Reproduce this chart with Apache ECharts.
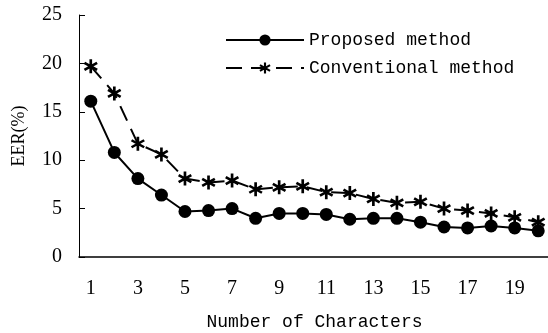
<!DOCTYPE html>
<html>
<head>
<meta charset="utf-8">
<script src="https://cdn.jsdelivr.net/npm/echarts@6/dist/echarts.min.js"></script>
<style>
  html, body { margin: 0; padding: 0; background: #fff; }
  #chart { width: 548px; height: 333px; }
</style>
</head>
<body>
<div id="chart"></div>
<script>
// data
const categories = ['1','2','3','4','5','6','7','8','9','10','11','12','13','14','15','16','17','18','19','20']
const proposed = [16.1, 10.8, 8.1, 6.4, 4.7, 4.8, 5.0, 4.0, 4.5, 4.5, 4.4, 3.9, 4.0, 4.0, 3.6, 3.1, 3.0, 3.2, 3.0, 2.7]
const conventional = [19.7, 16.9, 11.7, 10.6, 8.1, 7.7, 7.9, 7.0, 7.2, 7.3, 6.7, 6.6, 6.0, 5.6, 5.7, 5.0, 4.8, 4.5, 4.1, 3.6]
const yTicks = [0, 5, 10, 15, 20, 25]

// six-spoke asterisk marker (three filled bars)
const starPath = 'path://M9.8,0 L14.2,0 L14.2,24 L9.8,24 Z' +
    ' M0.51,7.91 L2.71,4.10 L23.49,16.10 L21.29,19.91 Z' +
    ' M2.71,19.91 L0.51,16.10 L21.29,4.10 L23.49,7.91 Z'

const monoFont = '"Liberation Mono", "DejaVu Sans Mono", monospace'
const serifFont = '"Liberation Serif", "DejaVu Serif", serif'

const myChart = echarts.init(document.getElementById('chart'))
myChart.setOption({
    animation: false,
    backgroundColor: '#fff',
    grid: {
        left: 79,
        top: 15,
        width: 471,
        bottom: 76,
        containLabel: false,
        outerBoundsMode: 'none'
    },
    legend: {
        orient: 'vertical',
        left: 220,
        top: 26,
        itemWidth: 78,
        itemHeight: 14,
        itemGap: 10,
        textStyle: { color: '#000', fontFamily: monoFont, fontSize: 18 },
        data: ['Proposed method', 'Conventional method']
    },
    xAxis: {
        type: 'category',
        data: categories,
        boundaryGap: true,
        name: 'Number of Characters',
        nameLocation: 'middle',
        nameGap: 56,
        nameTextStyle: { color: '#000', fontFamily: monoFont, fontSize: 18 },
        axisLine: { lineStyle: { color: '#000', width: 1.5 } },
        axisTick: { inside: true, length: 7, interval: 0, lineStyle: { color: '#000' } },
        axisLabel: { interval: 1, margin: 22, color: '#000', fontFamily: serifFont, fontSize: 20 }
    },
    yAxis: {
        type: 'value',
        min: yTicks[0],
        max: yTicks[yTicks.length - 1],
        interval: yTicks[1] - yTicks[0],
        name: 'EER(%)',
        nameLocation: 'middle',
        nameGap: 51,
        nameTextStyle: { color: '#000', fontFamily: serifFont, fontSize: 18 },
        axisLine: { show: true, lineStyle: { color: '#000', width: 1 } },
        axisTick: { show: true, inside: true, length: 6, lineStyle: { color: '#000' } },
        axisLabel: { margin: 17, color: '#000', fontFamily: serifFont, fontSize: 20 },
        splitLine: { show: false }
    },
    series: [{
        name: 'Proposed method',
        type: 'line',
        data: proposed,
        symbol: 'circle',
        symbolSize: 13,
        itemStyle: { color: '#000' },
        lineStyle: { color: '#000', width: 2 }
    }, {
        name: 'Conventional method',
        type: 'line',
        data: conventional,
        symbol: starPath,
        symbolSize: 14,
        itemStyle: { color: '#000' },
        lineStyle: { color: '#000', width: 2, type: [16, 9] }
    }]
})
</script>
</body>
</html>
